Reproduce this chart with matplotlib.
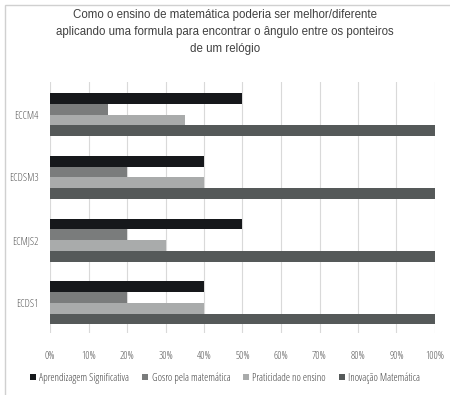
import numpy as np
import matplotlib.pyplot as plt
from matplotlib.patches import Rectangle
from matplotlib import font_manager

categories = ["ECCM4", "ECDSM3", "ECMJS2", "ECDS1"]
series_names = ["Aprendizagem Significativa", "Gosro pela matemática",
                "Praticidade no ensino", "Inovação Matemática"]
aprendizagem = [50, 40, 50, 40]
gosto = [15, 20, 20, 20]
praticidade = [35, 40, 30, 40]
inovacao = [100, 100, 100, 100]
colors = ["#16181b", "#7a7c7c", "#a9abab", "#555959"]

title = ("Como o ensino de matemática poderia ser melhor/diferente\n"
         "aplicando uma formula para encontrar o ângulo entre os ponteiros\n"
         "de um relógio")

installed = {f.name for f in font_manager.fontManager.ttflist}
label_font = [f for f in ["Liberation Sans Narrow", "DejaVu Sans Condensed",
                          "Open Sans", "DejaVu Sans"] if f in installed]

fig = plt.figure(figsize=(4.5, 3.95), dpi=100)
fig.patch.set_facecolor("white")
# thin frame around the chart area
fig.patches.append(Rectangle((5 / 450, -0.01), 1.5, 1 - 5 / 395 + 0.01,
                             transform=fig.transFigure, fill=False,
                             edgecolor="#d0d0d0", linewidth=1.0))

ax = fig.add_axes([50 / 450, 1 - 333 / 395, 385 / 450, 251 / 395])

values = [aprendizagem, gosto, praticidade, inovacao]
bar_h = 0.172
y = np.arange(len(categories))
for i, (name, vals, c) in enumerate(zip(series_names, values, colors)):
    offs = (i - 1.5) * bar_h
    ax.barh(y + offs, vals, height=bar_h, color=c, label=name, zorder=3)

ax.set_ylim(3.48, -0.52)
ax.set_xlim(0, 100)
ax.set_xticks(np.arange(0, 101, 10))
ax.set_xticklabels([f"{v}%" for v in range(0, 101, 10)])
ax.set_yticks(y)
ax.set_yticklabels(categories)
ax.grid(axis="x", color="#d9d9d9", linewidth=0.8, zorder=0)
for s in ax.spines.values():
    s.set_visible(False)
ax.tick_params(axis="both", length=0, colors="#555555", labelsize=7.6)
ax.tick_params(axis="x", pad=13)
ax.tick_params(axis="y", pad=8)
for lab in ax.get_xticklabels() + ax.get_yticklabels():
    lab.set_family(label_font)
    lab.set_stretch("condensed")

fig.text(0.5, 1 - 32 / 395, title, ha="center", va="center",
         fontsize=8.3, color="#404040", family="Liberation Sans",
         linespacing=1.55)

leg = fig.legend(loc="center", bbox_to_anchor=(0.5, 1 - 378 / 395), ncol=4,
                 frameon=False, handlelength=0.6, handleheight=0.6,
                 handletextpad=0.3, columnspacing=1.2,
                 prop={"family": label_font, "size": 7.6,
                       "stretch": "condensed"})
for t in leg.get_texts():
    t.set_color("#404040")

fig.savefig("out.png", dpi=100)
